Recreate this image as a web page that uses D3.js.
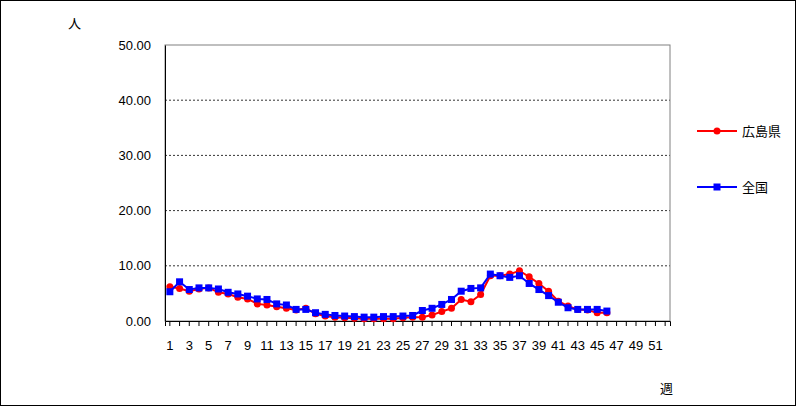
<!DOCTYPE html><html><head><meta charset="utf-8"><script src="https://cdn.jsdelivr.net/npm/d3@7"></script>
<style>body{margin:0}svg text{font-family:"Liberation Sans","Noto Sans CJK JP",sans-serif;font-size:13px}</style></head><body>
<script>
const weeks = d3.range(1,53);
const yTicks = [0,10,20,30,40,50];
const seriesNames = ["広島県","全国"];
const hiroshima = [6.2,5.9,5.4,5.8,6.0,5.2,4.9,4.3,4.0,3.1,2.9,2.6,2.3,2.0,2.3,1.3,0.9,0.7,0.6,0.5,0.4,0.4,0.4,0.4,0.6,0.7,0.7,1.1,1.7,2.3,3.9,3.5,4.8,8.2,8.2,8.5,9.1,8.0,6.8,5.4,3.6,2.7,2.1,2.0,1.5,1.5];
const zenkoku = [5.3,7.1,5.7,6.0,6.0,5.8,5.2,4.9,4.5,4.0,3.9,3.1,2.9,2.1,2.1,1.5,1.2,1.0,0.9,0.8,0.7,0.7,0.8,0.8,0.9,1.0,1.9,2.3,3.0,3.9,5.4,5.9,6.0,8.5,8.2,7.9,8.2,6.8,5.7,4.6,3.4,2.4,2.1,2.1,2.1,1.8];
const svg=d3.select("body").append("svg").attr("width",797).attr("height",407);
svg.append("rect").attr("x",0.5).attr("y",0.5).attr("width",795).attr("height",405).attr("fill","#fff").attr("stroke","#000");
const L=165,R=670,T=45,B=321;
const x=d3.scaleBand().domain(weeks).range([L,R]);
const y=d3.scaleLinear().domain([0,50]).range([B,T]);
svg.selectAll(".g").data(yTicks.slice(1,-1)).join("line").attr("x1",L).attr("x2",R).attr("y1",d=>y(d)).attr("y2",d=>y(d)).attr("stroke","#000").attr("stroke-dasharray","2,2").attr("stroke-width",0.8);
svg.append("rect").attr("x",L).attr("y",T).attr("width",R-L).attr("height",B-T).attr("fill","none").attr("stroke","#808080");
const ya=svg.append("g").attr("transform",`translate(${L},0)`).call(d3.axisLeft(y).tickValues(yTicks).tickFormat(d3.format(".2f")).tickSize(0).tickPadding(14));
ya.select(".domain").attr("stroke","#000");ya.selectAll("text").attr("font-size",13).attr("fill","#000");
const xa=svg.append("g").attr("transform",`translate(0,${B})`).call(d3.axisBottom(x).tickValues(weeks).tickSize(5).tickFormat(d=>d%2?d:""));
xa.select(".domain").attr("stroke","#000");xa.selectAll("line").attr("y1",0).attr("y2",5).attr("stroke","#000");
xa.selectAll("text").attr("dy","1.6em").attr("font-size",13).attr("fill","#000");
const cx=(d,i)=>x(i+1)+x.bandwidth()/2;
const line=d3.line().x(cx).y(d=>y(d));
svg.append("path").datum(hiroshima).attr("d",line).attr("fill","none").attr("stroke","#ff0000").attr("stroke-width",2);
svg.selectAll(".r").data(hiroshima).join("circle").attr("cx",cx).attr("cy",d=>y(d)).attr("r",3.5).attr("fill","#ff0000");
svg.append("path").datum(zenkoku).attr("d",line).attr("fill","none").attr("stroke","#0000ff").attr("stroke-width",2);
svg.selectAll(".b").data(zenkoku).join("rect").attr("x",(d,i)=>cx(d,i)-3.5).attr("y",d=>y(d)-3.5).attr("width",7).attr("height",7).attr("fill","#0000ff");
svg.append("text").attr("x",68).attr("y",28).attr("font-size",15).text("人");
svg.append("text").attr("x",660).attr("y",393).attr("font-size",15).text("週");
const lg=[{n:seriesNames[0],c:"#ff0000",y:131},{n:seriesNames[1],c:"#0000ff",y:187}];
lg.forEach((l,i)=>{
 svg.append("line").attr("x1",697).attr("x2",737).attr("y1",l.y).attr("y2",l.y).attr("stroke",l.c).attr("stroke-width",2);
 if(i==0) svg.append("circle").attr("cx",717).attr("cy",l.y).attr("r",3.5).attr("fill",l.c);
 else svg.append("rect").attr("x",713.5).attr("y",l.y-3.5).attr("width",7).attr("height",7).attr("fill",l.c);
 svg.append("text").attr("x",742).attr("y",l.y+5).text(l.n);
});
</script></body></html>
